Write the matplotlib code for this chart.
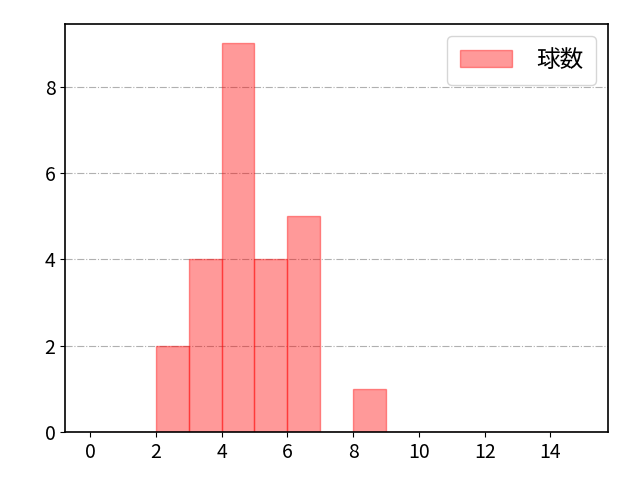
import matplotlib
matplotlib.use("Agg")
import matplotlib.pyplot as plt
import numpy as np

plt.rcParams['font.family'] = ['Noto Sans CJK JP', 'DejaVu Sans']

pitch_counts = [2, 3, 4, 5, 6, 8]
frequencies = [2, 4, 9, 4, 5, 1]
bin_edges = list(range(0, 16))
label = "球数"

fig, ax = plt.subplots(figsize=(6.4, 4.8), dpi=100)
fig.subplots_adjust(left=0.102, right=0.95, top=0.95, bottom=0.1)
ax.hist(pitch_counts, bins=bin_edges, weights=frequencies, color='red', alpha=0.4,
        edgecolor='red', linewidth=1, label=label, zorder=2)
ax.set_xticks(range(0, 15, 2))
ax.grid(axis='y', linestyle='-.', color='#b0b0b0', linewidth=0.8, zorder=0)
ax.set_axisbelow(True)
ax.legend(loc='upper right', fontsize=17, handlelength=2.2, borderpad=0.55,
          handletextpad=1.0)
ax.tick_params(labelsize=14)
for s in ax.spines.values():
    s.set_linewidth(1.2)
fig.savefig("out.png", dpi=100)
